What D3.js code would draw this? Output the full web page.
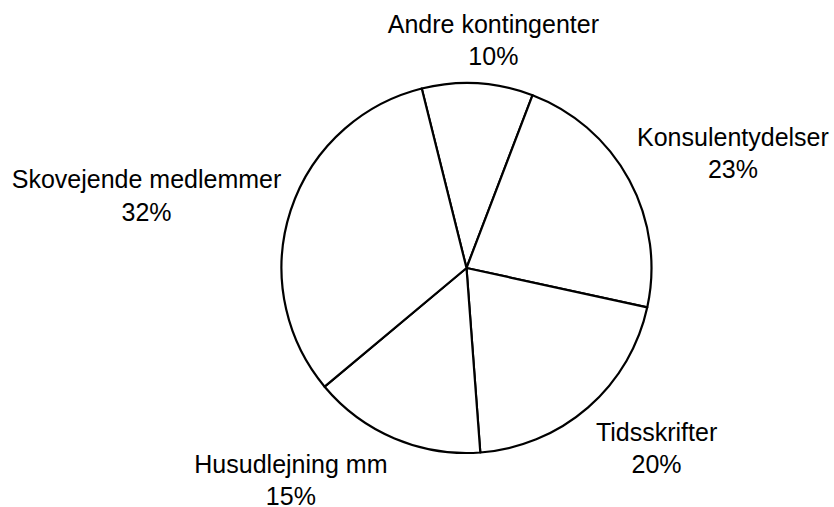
<!DOCTYPE html>
<html>
<head>
<meta charset="utf-8">
<script src="https://cdn.jsdelivr.net/npm/d3@7"></script>
<style>
  body { margin: 0; background: #fff; }
</style>
</head>
<body>
<div id="chart"></div>
<script>
// data
var categories = ["Andre kontingenter", "Konsulentydelser", "Tidsskrifter", "Husudlejning mm", "Skovejende medlemmer"];
var values = [9.7, 22.6, 20.4, 15.1, 32.2];

// size of the page
var width = 834,
    height = 507;
var cx = 466.5, cy = 268, radius = 185;
var fontSize = 25, lineGap = 32.3;
// hand moved labels (dx, dy), like in the original
var labelNudge = [[8, 3.5], [0, -4.5], [14.5, 5], [-57.5, -1.5], [5, -0.5]];

var svg = d3.select("#chart")
  .append("svg")
    .attr("width", width)
    .attr("height", height);

var g = svg.append("g")
  .attr("transform", "translate(" + cx + "," + cy + ")");

var start = -14 * Math.PI / 180;
var pie = d3.pie()
  .sort(null)
  .startAngle(start)
  .endAngle(start + 2 * Math.PI);

var data = categories.map(function(c, i) { return { name: c, value: values[i] }; });
var arcs = pie.value(function(d) { return d.value; })(data);
var total = d3.sum(values);

var arc = d3.arc().innerRadius(0).outerRadius(radius);

// slices
g.selectAll("path.slice")
  .data(arcs)
  .enter()
  .append("path")
    .attr("class", "slice")
    .attr("d", arc)
    .attr("fill", "#fff")
    .attr("stroke", "#000")
    .attr("stroke-width", 2.2)
    .attr("stroke-linejoin", "round");

// labels: box pushed outwards along the middle angle
var labelDist = radius + 22;
var cap = fontSize * 0.716;
var boxH = cap + lineGap;

arcs.forEach(function(a, i) {
  var mid = (a.startAngle + a.endAngle) / 2;
  var dx = Math.sin(mid), dy = -Math.cos(mid);

  var t = g.append("text")
    .attr("text-anchor", "middle")
    .style("font-family", "Liberation Sans, Arial, sans-serif")
    .style("font-size", fontSize + "px")
    .style("fill", "#000");
  var t1 = t.append("tspan").text(a.data.name);
  var t2 = t.append("tspan").text(Math.round(a.data.value / total * 100) + "%");

  var w = Math.max(t1.node().getComputedTextLength(), t2.node().getComputedTextLength());
  var bx = labelDist * dx + dx * w / 2 + labelNudge[i][0],
      by = labelDist * dy + dy * boxH / 2 + labelNudge[i][1];

  t1.attr("x", bx).attr("y", by - boxH / 2 + cap);
  t2.attr("x", bx).attr("y", by - boxH / 2 + cap + lineGap);
});
</script>
</body>
</html>
